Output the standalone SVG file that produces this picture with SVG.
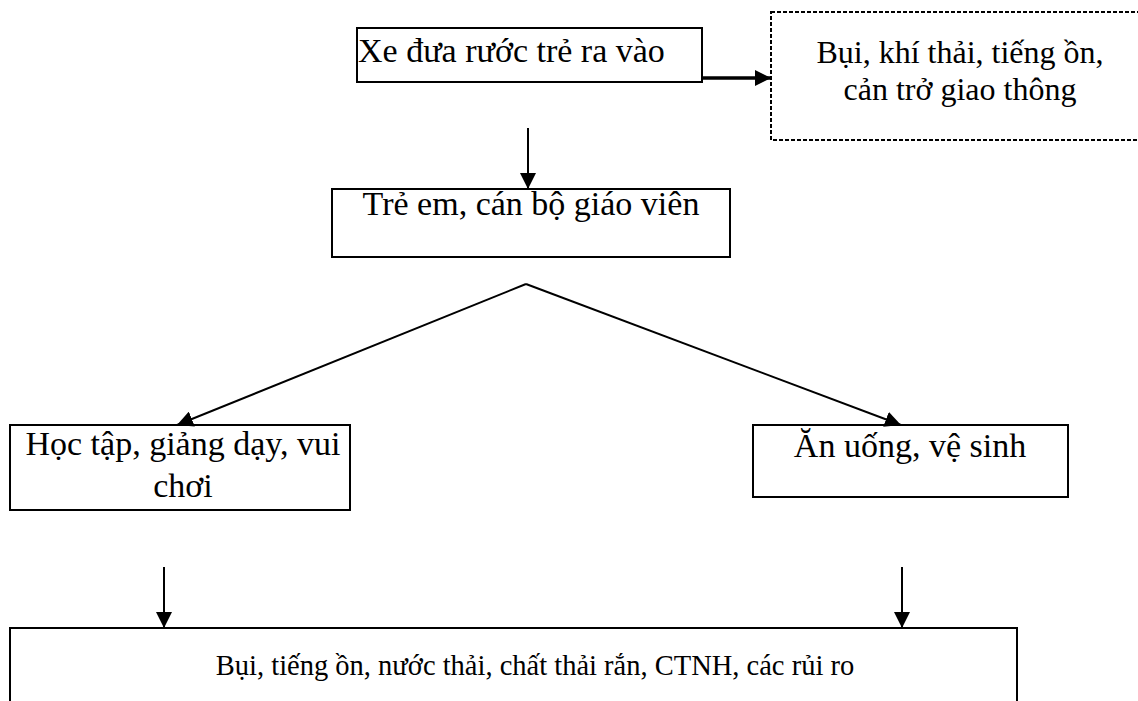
<svg xmlns="http://www.w3.org/2000/svg" width="1138" height="701" viewBox="0 0 1138 701">
<style>
  .box { fill: #ffffff; stroke: #000000; stroke-width: 2; }
  .dash { fill: #ffffff; stroke: #000000; stroke-width: 2; stroke-dasharray: 4 2; }
  .t { font-family: "Liberation Serif", "Times New Roman", serif; font-size: 34px; fill: #000000; }
  .s32 { font-size: 32px; }
  .s28 { font-size: 28.5px; }
  .c { text-anchor: middle; }
  .ln { fill: none; stroke: #000000; stroke-width: 2; }
  .thick { fill: none; stroke: #000000; stroke-width: 3.5; }
</style>
<defs>
  <marker id="ah" markerUnits="userSpaceOnUse" markerWidth="16" markerHeight="16" viewBox="0 0 16 16" refX="16" refY="8" orient="auto">
    <path d="M0,0 L16,8 L0,16 Z" fill="#000000"/>
  </marker>
</defs>

<g id="node-xe">
  <rect class="box" x="357" y="28" width="345" height="54"/>
  <text class="t" x="358" y="62">Xe đưa rước trẻ ra vào</text>
</g>

<g id="node-bui-khi">
  <rect class="dash" x="771" y="12" width="380" height="128"/>
  <text class="t s32 c" x="960" y="63">Bụi, khí thải, tiếng ồn,</text>
  <text class="t s32 c" x="960" y="100">cản trở giao thông</text>
</g>

<g id="node-tre-em">
  <rect class="box" x="332" y="189" width="398" height="68"/>
  <text class="t c" x="531" y="215">Trẻ em, cán bộ giáo viên</text>
</g>

<g id="node-hoc-tap">
  <rect class="box" x="10" y="425" width="340" height="85"/>
  <text class="t c" x="183" y="455">Học tập, giảng dạy, vui</text>
  <text class="t c" x="183" y="497">chơi</text>
</g>

<g id="node-an-uong">
  <rect class="box" x="753" y="425" width="315" height="72"/>
  <text class="t c" x="910" y="457">Ăn uống, vệ sinh</text>
</g>

<g id="node-bottom">
  <rect class="box" x="10" y="628" width="1007" height="100"/>
  <text class="t s28 c" x="535" y="675">Bụi, tiếng ồn, nước thải, chất thải rắn, CTNH, các rủi ro</text>
</g>

<g id="connectors">
  <line class="thick" x1="702" y1="78" x2="771" y2="78" marker-end="url(#ah)"/>
  <line class="ln" x1="528" y1="128" x2="528" y2="189" marker-end="url(#ah)"/>
  <line class="ln" x1="526" y1="284" x2="177" y2="425" marker-end="url(#ah)"/>
  <line class="ln" x1="526" y1="284" x2="901" y2="425" marker-end="url(#ah)"/>
  <line class="ln" x1="164" y1="567" x2="164" y2="628" marker-end="url(#ah)"/>
  <line class="ln" x1="902" y1="567" x2="902" y2="628" marker-end="url(#ah)"/>
</g>
</svg>
